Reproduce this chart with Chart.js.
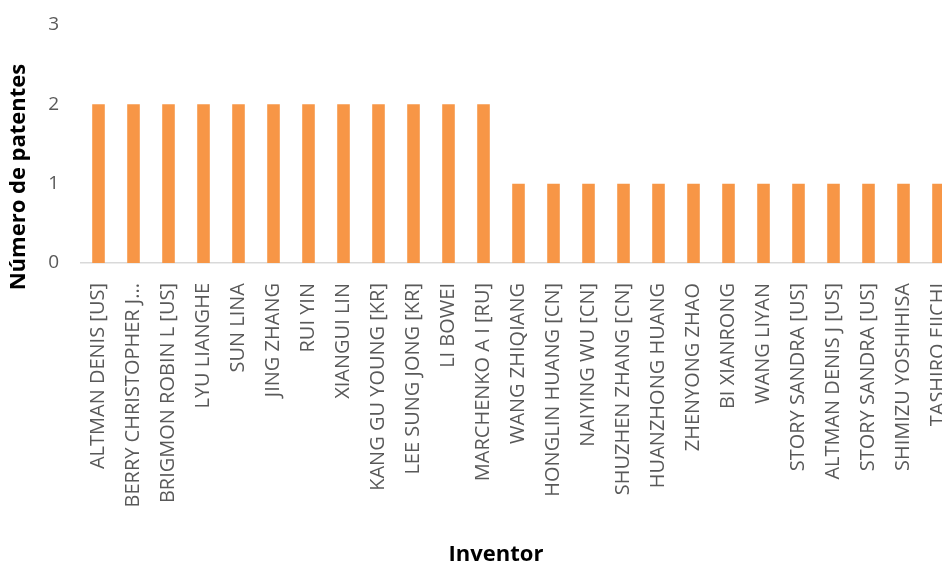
<!DOCTYPE html>
<html>
<head>
<meta charset="utf-8">
<script src="https://cdn.jsdelivr.net/npm/chart.js@4/dist/chart.umd.min.js"></script>
<style>
  html, body { margin: 0; padding: 0; background: #ffffff; overflow: hidden; }
  canvas { display: block; }
</style>
</head>
<body>
<canvas id="c" width="960" height="566"></canvas>
<script>
// Inventors and their patent counts
const inventors = [
  "ALTMAN DENIS [US]", "BERRY CHRISTOPHER J...", "BRIGMON ROBIN L [US]", "LYU LIANGHE",
  "SUN LINA", "JING ZHANG", "RUI YIN", "XIANGUI LIN", "KANG GU YOUNG [KR]",
  "LEE SUNG JONG [KR]", "LI BOWEI", "MARCHENKO A I [RU]", "WANG ZHIQIANG",
  "HONGLIN HUANG [CN]", "NAIYING WU [CN]", "SHUZHEN ZHANG [CN]", "HUANZHONG HUANG",
  "ZHENYONG ZHAO", "BI XIANRONG", "WANG LIYAN", "STORY SANDRA [US]",
  "ALTMAN DENIS J [US]", "STORY SANDRA [US]", "SHIMIZU YOSHIHISA", "TASHIRO EIICHI"
];
const patents = [2, 2, 2, 2, 2, 2, 2, 2, 2, 2, 2, 2, 1, 1, 1, 1, 1, 1, 1, 1, 1, 1, 1, 1, 1];
const yTicks = [0, 1, 2, 3];

const yTitle = "Número de patentes";
const xTitle = "Inventor";

// Axis titles drawn at fixed spots around the plot
const axisTitles = {
  id: 'axisTitles',
  afterDraw(chart) {
    const ctx = chart.ctx;
    ctx.save();
    ctx.fillStyle = '#000000';
    ctx.font = 'bold 22px "Open Sans"';
    ctx.textAlign = 'center';
    ctx.textBaseline = 'middle';
    ctx.translate(19, 177);
    ctx.rotate(-Math.PI / 2);
    ctx.fillText(yTitle, 0, 0);
    ctx.restore();

    ctx.save();
    ctx.fillStyle = '#000000';
    ctx.font = 'bold 22px "Open Sans"';
    ctx.textAlign = 'center';
    ctx.textBaseline = 'middle';
    ctx.fillText(xTitle, 496, 555);
    ctx.restore();
  }
};

// Keep the plot box fixed: no extra edge padding from the tick labels
function noEdgePadding(scale) {
  scale.paddingTop = 0;
  scale.paddingBottom = 0;
  scale.paddingLeft = 0;
  scale.paddingRight = 0;
}

new Chart(document.getElementById('c'), {
  type: 'bar',
  data: {
    labels: inventors,
    datasets: [{
      data: patents,
      backgroundColor: '#F79646',
      borderWidth: 0,
      barPercentage: 0.36,
      categoryPercentage: 1.0
    }]
  },
  options: {
    responsive: false,
    animation: false,
    layout: { padding: { top: 25, right: 4, bottom: 0, left: 0 } },
    plugins: { legend: { display: false }, tooltip: { enabled: false } },
    scales: {
      x: {
        grid: { display: false, drawTicks: false },
        border: { display: true, color: '#D9D9D9', width: 1.5 },
        ticks: {
          autoSkip: false,
          minRotation: 90,
          maxRotation: 90,
          padding: 20,
          color: '#595959',
          font: { family: '"Open Sans"', size: 20 }
        },
        afterFit(scale) { scale.height = 303; noEdgePadding(scale); }
      },
      y: {
        min: 0,
        max: 3,
        afterBuildTicks(scale) { scale.ticks = yTicks.map(v => ({ value: v })); },
        grid: { display: false, drawTicks: false },
        border: { display: false },
        ticks: {
          padding: 22,
          color: '#595959',
          font: { family: '"Open Sans"', size: 19 }
        },
        afterFit(scale) { scale.width = 81; noEdgePadding(scale); }
      }
    }
  },
  plugins: [axisTitles]
});
</script>
</body>
</html>
